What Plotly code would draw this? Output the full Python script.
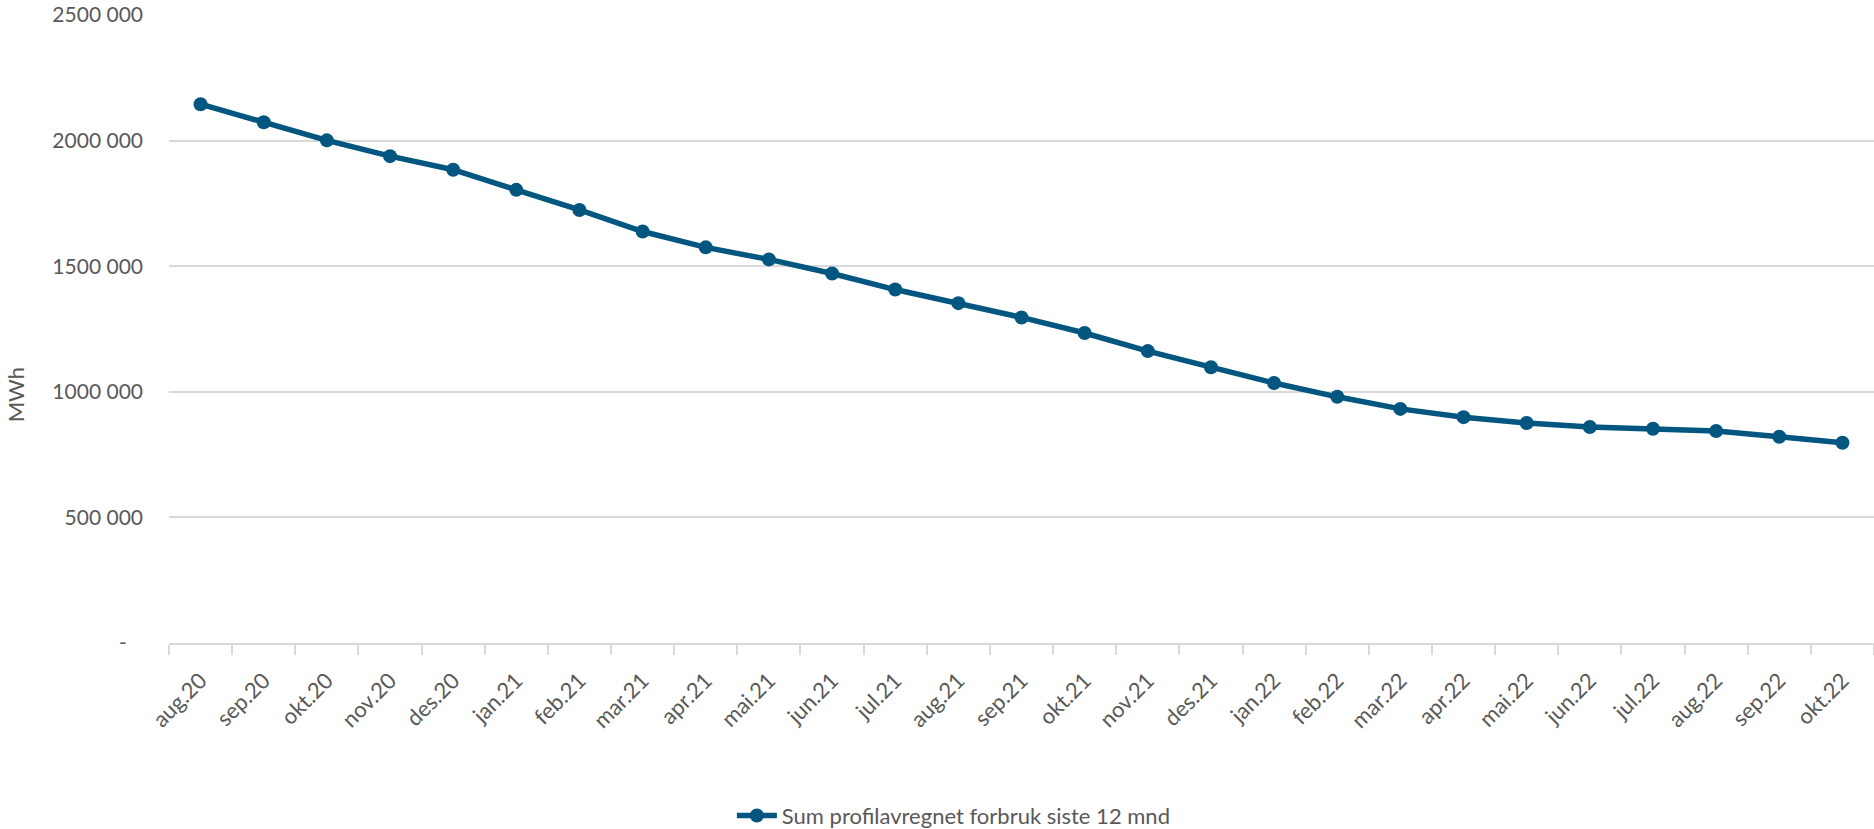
import plotly.graph_objects as go

# Monthly labels (Norwegian month abbreviations)
months = [
    "aug.20", "sep.20", "okt.20", "nov.20", "des.20",
    "jan.21", "feb.21", "mar.21", "apr.21", "mai.21", "jun.21",
    "jul.21", "aug.21", "sep.21", "okt.21", "nov.21", "des.21",
    "jan.22", "feb.22", "mar.22", "apr.22", "mai.22", "jun.22",
    "jul.22", "aug.22", "sep.22", "okt.22",
]

# Rolling 12-month sum of profile-settled consumption (MWh)
consumption_mwh = [
    2145000, 2073000, 2001000, 1938000, 1884000,
    1804000, 1724000, 1638000, 1575000, 1527000, 1471000,
    1407000, 1353000, 1296000, 1234000, 1162000, 1098000,
    1035000, 980000, 932000, 899000, 876000, 860000,
    853000, 844000, 821000, 797000,
]

series_name = "Sum profilavregnet forbruk siste 12 mnd"

# Accounting-style labels: zero shown as a dash padded on the right
y_tickvals = [0, 500000, 1000000, 1500000, 2000000, 2500000]
y_ticktext = ["-\u00a0\u00a0\u00a0", "500 000", "1000 000", "1500 000", "2000 000", "2500 000"]

LINE_COLOR = "#03567f"
TEXT_COLOR = "#595959"
GRID_COLOR = "#d9d9d9"
FONT = "Lato, 'Open Sans', sans-serif"

fig = go.Figure()
fig.add_trace(
    go.Scatter(
        x=months,
        y=consumption_mwh,
        name=series_name,
        mode="lines+markers",
        line=dict(color=LINE_COLOR, width=5.5),
        marker=dict(color=LINE_COLOR, size=14),
        showlegend=True,
    )
)

fig.update_layout(
    width=1874,
    height=829,
    paper_bgcolor="white",
    plot_bgcolor="white",
    font=dict(family=FONT, size=21, color=TEXT_COLOR),
    margin=dict(l=169, r=0, t=15, b=186, autoexpand=False),
    showlegend=True,
    legend=dict(
        orientation="h",
        xref="container",
        yref="container",
        x=0.509,
        xanchor="center",
        y=0.016,
        yanchor="middle",
        font=dict(family=FONT, size=22, color=TEXT_COLOR),
        itemwidth=40,
    ),
    annotations=[
        dict(
            text="MWh",
            xref="paper",
            yref="paper",
            x=-0.0895,
            y=0.395,
            xanchor="center",
            yanchor="middle",
            textangle=-90,
            showarrow=False,
            font=dict(family=FONT, size=22, color=TEXT_COLOR),
        )
    ],
)

fig.update_xaxes(
    type="category",
    range=[-0.5, len(months) - 0.5],
    tickson="boundaries",
    ticks="outside",
    ticklen=10,
    tickwidth=2,
    tickcolor=GRID_COLOR,
    showline=True,
    linecolor=GRID_COLOR,
    linewidth=2,
    showgrid=False,
    tickangle=-45,
    ticklabelstandoff=14,
    tickfont=dict(family=FONT, size=22, color=TEXT_COLOR),
)

fig.update_yaxes(
    range=[0, 2500000],
    tickvals=y_tickvals,
    ticktext=y_ticktext,
    showgrid=True,
    gridcolor=GRID_COLOR,
    gridwidth=1.5,
    zeroline=False,
    showline=False,
    ticks="",
    ticklabelstandoff=25,
    tickfont=dict(family=FONT, size=21, color=TEXT_COLOR),
)

fig.write_html("out.html")
